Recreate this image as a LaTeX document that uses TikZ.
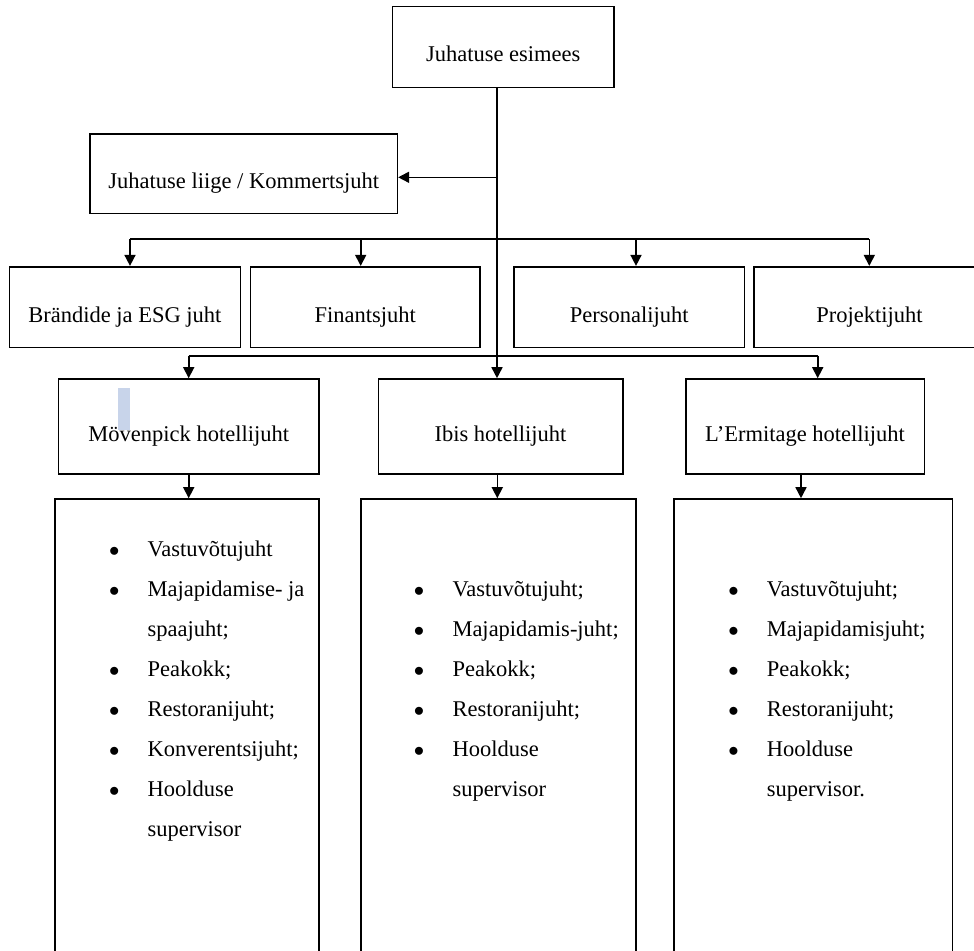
\documentclass[tikz,border=0pt]{standalone}
\usepackage{fontspec}
\setmainfont{Liberation Serif}
\usetikzlibrary{arrows.meta}
\newcommand{\punkt}{\makebox[66.8pt]{$\bullet$}}
\newcommand{\tyhi}{\hspace*{66.8pt}}
\begin{document}
\begin{tikzpicture}[x=1pt,y=-1pt,line width=1.6pt,font=\fontsize{22.5pt}{40pt}\selectfont]

\tikzset{box/.style = {shape=rectangle,draw,text height=30pt,text depth=0pt}}
\tikzset{edge/.style = {->,> = {Triangle[length=11pt,width=11pt]}}}
\tikzset{list/.style = {anchor=base west,inner sep=0pt}}
\definecolor{valik}{RGB}{200,212,234}

\useasboundingbox (0,0) rectangle (974,950);

%selection mark
\fill[valik] (118.3,387.7) rectangle (130,430);

%boxes
\node[box, minimum width=221.7pt, minimum height=80.6pt] (esimees) at (503.2,47) {Juhatuse esimees};
\node[box, minimum width=307.3pt, minimum height=79.3pt] (kommerts) at (243.7,173.7) {Juhatuse liige / Kommertsjuht};
\node[box, minimum width=231.2pt, minimum height=80.6pt] (brand) at (124.9,307) {Brändide ja ESG juht};
\node[box, minimum width=229.3pt, minimum height=80.6pt] (finants) at (365.3,307) {Finantsjuht};
\node[box, minimum width=230.3pt, minimum height=80.6pt] (personal) at (629.2,307) {Personalijuht};
\node[box, minimum width=231pt, minimum height=80.6pt] (projekt) at (869.5,307) {Projektijuht};
\node[box, minimum width=260.7pt, minimum height=95pt] (movenpick) at (188.7,426.5) {Mövenpick hotellijuht};
\node[box, minimum width=244.4pt, minimum height=95pt] (ibis) at (500.5,426.5) {Ibis hotellijuht};
\node[box, minimum width=238.6pt, minimum height=95pt] (ermitage) at (805,426.5) {L’Ermitage hotellijuht};
\node[box, minimum width=263.7pt, minimum height=461pt] (l1) at (186.85,729.5) {};
\node[box, minimum width=275.1pt, minimum height=461pt] (l2) at (498.25,729.5) {};
\node[box, minimum width=278.5pt, minimum height=461pt] (l3) at (813.25,729.5) {};

%lists
\node[list] (v1) at (80,556) {\begin{tabular}[t]{@{}l@{}}
\punkt Vastuvõtujuht\\
\punkt Majapidamise- ja\\
\tyhi spaajuht;\\
\punkt Peakokk;\\
\punkt Restoranijuht;\\
\punkt Konverentsijuht;\\
\punkt Hoolduse\\
\tyhi supervisor
\end{tabular}};
\node[list] (v2) at (384.9,596) {\begin{tabular}[t]{@{}l@{}}
\punkt Vastuvõtujuht;\\
\punkt Majapidamis-juht;\\
\punkt Peakokk;\\
\punkt Restoranijuht;\\
\punkt Hoolduse\\
\tyhi supervisor
\end{tabular}};
\node[list] (v3) at (699.3,596) {\begin{tabular}[t]{@{}l@{}}
\punkt Vastuvõtujuht;\\
\punkt Majapidamisjuht;\\
\punkt Peakokk;\\
\punkt Restoranijuht;\\
\punkt Hoolduse\\
\tyhi supervisor.
\end{tabular}};

%edges
\coordinate (k) at (497,177.3);
\draw[edge] (esimees.south -| k) -- (ibis.north -| k);
\draw[edge] (k) -- (k -| kommerts.east);

\foreach \n/\x in {brand/130, finants/360.7, personal/636, projekt/869.3}{
  \coordinate (top-\n) at (\x,239);
  \draw[edge] (top-\n) -- (top-\n |- \n.north);
}
\draw (top-brand) -- (top-projekt);

\coordinate (h1) at (188.7,355.7);
\coordinate (h3) at (817.7,355.7);
\draw (h1) -- (h3);
\draw[edge] (h1) -- (h1 |- movenpick.north);
\draw[edge] (h3) -- (h3 |- ermitage.north);

\foreach \n/\m/\x in {movenpick/l1/188.7, ibis/l2/497.3, ermitage/l3/801}{
  \coordinate (d-\n) at (\x,474);
  \draw[edge] (d-\n |- \n.south) -- (d-\n |- \m.north);
}

\end{tikzpicture}
\end{document}
